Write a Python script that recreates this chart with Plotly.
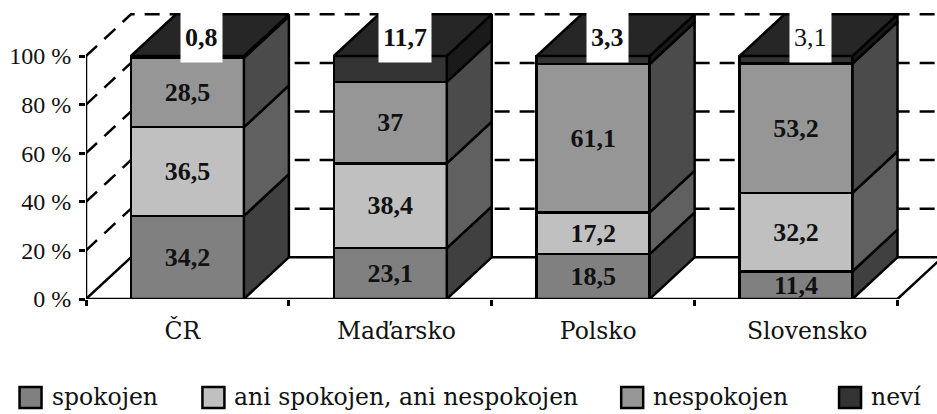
import plotly.graph_objects as go

categories = ["ČR", "Maďarsko", "Polsko", "Slovensko"]
series_names = ["spokojen", "ani spokojen, ani nespokojen", "nespokojen", "neví"]
spokojen = [34.2, 23.1, 18.5, 11.4]
ani = [36.5, 38.4, 17.2, 32.2]
nespokojen = [28.5, 37, 61.1, 53.2]
nevi = [0.8, 11.7, 3.3, 3.1]
series_values = [spokojen, ani, nespokojen, nevi]
y_ticks = [0, 20, 40, 60, 80, 100]

front_colors = ["#808080", "#c0c0c0", "#969696", "#333333"]
side_colors = ["#404040", "#606060", "#4b4b4b", "#1a1a1a"]
top_color = "#262626"

FONT = "DejaVu Serif"
NUM_FONT = "Liberation Serif"
W, H = 937, 414
L, R, T, B = 85.5, 0, 10, 115
PX_CAT = 203.0
PX_PCT = 2.43
LW = 2.5
plot_w = W - L - R
plot_h = H - T - B
DX = 45 / PX_CAT
DY = 41.7 / PX_PCT
BAR_W = 113 / PX_CAT
n = len(categories)
centers = [i + 0.5 for i in range(n)]


def fmt(v):
    return str(v).replace(".", ",")


fig = go.Figure()

# front faces: the library's own normalised stacked bars
for k, name in enumerate(series_names):
    vals = series_values[k]
    fig.add_bar(
        x=centers, y=vals, name=name, width=BAR_W, showlegend=False,
        marker=dict(color=front_colors[k], line=dict(color="black", width=LW)),
        text=[fmt(v) for v in vals] if k < 3 else None,
        textposition="inside", insidetextanchor="middle", textangle=0,
        constraintext="none", cliponaxis=False,
        textfont=dict(family=NUM_FONT, size=26, color="#111111", weight="bold"),
    )

# side faces, derived from the same values
totals = [sum(s[i] for s in series_values) for i in range(n)]
for k in range(4):
    xs, ys = [], []
    for i in range(n):
        lo = sum(series_values[j][i] for j in range(k)) / totals[i] * 100
        hi = lo + series_values[k][i] / totals[i] * 100
        x1 = centers[i] + BAR_W / 2
        xs += [x1, x1 + DX, x1 + DX, x1, x1, None]
        ys += [lo, lo + DY, hi + DY, hi, lo, None]
    fig.add_scatter(x=xs, y=ys, mode="lines", fill="toself", fillcolor=side_colors[k],
                    line=dict(color="black", width=LW), showlegend=False, hoverinfo="skip")

# top faces
xs, ys = [], []
for i in range(n):
    x0, x1 = centers[i] - BAR_W / 2, centers[i] + BAR_W / 2
    xs += [x0, x1, x1 + DX, x0 + DX, x0, None]
    ys += [100, 100, 100 + DY, 100 + DY, 100, None]
fig.add_scatter(x=xs, y=ys, mode="lines", fill="toself", fillcolor=top_color,
                line=dict(color="black", width=LW), showlegend=False, hoverinfo="skip")

# axis lines
fig.add_scatter(x=[0, 0, None, 0, n], y=[0, 100, None, 0, 0], mode="lines",
                line=dict(color="black", width=LW), showlegend=False,
                hoverinfo="skip", cliponaxis=False)

shapes = []
solid = dict(color="black", width=LW)
dashed = dict(color="black", width=LW, dash="15px,10px")
# floor
shapes.append(dict(type="line", xref="x", yref="y", x0=0, y0=0, x1=DX, y1=DY, line=solid, layer="below"))
shapes.append(dict(type="line", xref="x", yref="y", x0=DX, y0=DY, x1=n + DX, y1=DY, line=solid, layer="below"))
shapes.append(dict(type="line", xref="x", yref="y", x0=n, y0=0, x1=n + DX, y1=DY, line=solid, layer="below"))
# walls
for v in y_ticks[1:]:
    shapes.append(dict(type="path", xref="x", yref="y",
                       path=f"M 0 {v} L {DX} {v + DY} L {n + DX} {v + DY}",
                       line=dashed, layer="below"))


def px(x):
    return (x - L) / plot_w


def py(y):
    return (H - B - y) / plot_h


# legend
legend_box_x = [18, 201, 620, 838]
legend_text_x = [49, 232, 651, 869]
annotations = []
for k, name in enumerate(series_names):
    shapes.append(dict(type="rect", xref="paper", yref="paper",
                       x0=px(legend_box_x[k] + 1), x1=px(legend_box_x[k] + 23),
                       y0=py(408), y1=py(387),
                       fillcolor=front_colors[k], line=dict(color="black", width=LW)))
    annotations.append(dict(xref="paper", yref="paper", x=px(legend_text_x[k]), y=py(397),
                            text=name, showarrow=False, xanchor="left", yanchor="middle",
                            font=dict(family=FONT, size=23.5, color="#111111")))

# labels of the "neví" series in white boxes
for i in range(n):
    annotations.append(dict(x=centers[i] + 14.5 / PX_CAT, y=100 + 18.5 / PX_PCT,
                            text=fmt(nevi[i]) if i == 3 else f"<b>{fmt(nevi[i])}</b>",
                            showarrow=False, xanchor="center", yanchor="middle",
                            bgcolor="white", borderpad=4, height=41,
                            font=dict(family=NUM_FONT, size=26, color="#111111")))

label_x = [0.475, 1.53, 2.525, 3.555]

fig.update_layout(
    width=W, height=H, margin=dict(l=L, r=R, t=T, b=B, pad=0, autoexpand=False),
    barmode="stack", barnorm="percent", showlegend=False,
    paper_bgcolor="white", plot_bgcolor="white",
    shapes=shapes, annotations=annotations,
    xaxis=dict(range=[0, plot_w / PX_CAT], tickmode="array", tickvals=label_x, ticktext=categories,
               ticks="", showgrid=False, zeroline=False, showline=False,
               tickfont=dict(family=FONT, size=23.5, color="#111111"), ticklabelstandoff=15,
               minor=dict(tickmode="array", tickvals=list(range(n + 1)), ticks="outside",
                          ticklen=6, tickwidth=LW, tickcolor="black", showgrid=False)),
    yaxis=dict(range=[0, plot_h / PX_PCT], tickmode="array", tickvals=y_ticks,
               ticktext=[f"{v} %" for v in y_ticks], ticks="outside", ticklen=6, tickwidth=LW,
               tickcolor="black", showgrid=False, zeroline=False, showline=False,
               ticklabelstandoff=3,
               tickfont=dict(family=NUM_FONT, size=24, color="#111111")),
)

fig.write_html("out.html", config={"displayModeBar": False},
               post_script="document.body.style.margin='0';document.body.style.overflow='hidden';")
